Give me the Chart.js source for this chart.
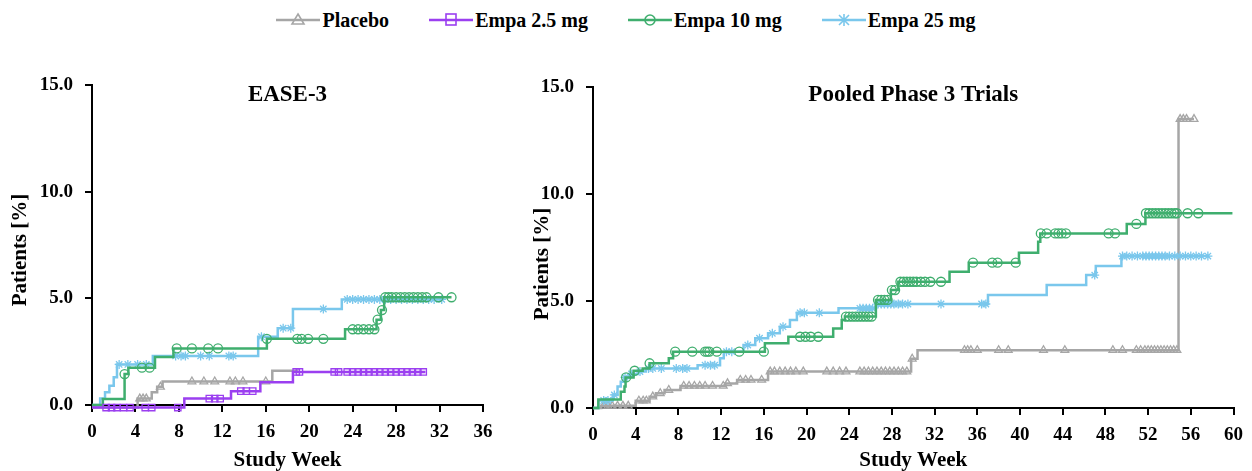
<!DOCTYPE html>
<html>
<head>
<meta charset="utf-8">
<script src="https://cdn.jsdelivr.net/npm/chart.js@4.4.1/dist/chart.umd.min.js"></script>
<style>
  html, body { margin: 0; padding: 0; background: #fff; }
  body { width: 1252px; height: 471px; position: relative; overflow: hidden; font-family: 'Liberation Serif', Tinos, 'DejaVu Serif', serif; }
  #legend { position: absolute; top: 8px; left: 0; width: 1252px; display: flex; justify-content: center; gap: 40px; font-weight: bold; font-size: 20px; line-height: 24px; }
  .item { display: flex; align-items: center; }
  .item svg { margin-right: 2px; }
  #leftWrap { position: absolute; left: 0; top: 0; width: 520px; height: 471px; }
  #rightWrap { position: absolute; left: 520px; top: 0; width: 732px; height: 471px; }
</style>
</head>
<body>
<div id="legend"></div>
<div id="leftWrap"><canvas id="easeChart" width="520" height="471"></canvas></div>
<div id="rightWrap"><canvas id="pooledChart" width="732" height="471"></canvas></div>

<script>
// --- Series names / colours ---
const seriesNames = ['Placebo', 'Empa 2.5 mg', 'Empa 10 mg', 'Empa 25 mg'];
const seriesColors = ['#a6a6a6', '#9b3ff0', '#3fae6e', '#7ac7ec'];
const seriesMarkers = ['triangle', 'rect', 'circle', 'star'];

// --- Axis ticks ---
const easeWeekMax = 36;
const pooledWeekMax = 60;
const weekStep = 4;
const pctTicks = [0, 5, 10, 15];

// --- EASE-3 (step curve: week where value changes, new value) ---
const easePlaceboWeeks = [0, 4.2, 5.5, 6.0, 6.5, 16.6, 19.0];
const easePlaceboPct   = [-0.12, 0.3, 0.6, 0.85, 1.1, 1.6, 1.6];
const easePlaceboCens  = [4.4, 4.7, 5.0, 6.3, 9.2, 10.3, 11.3, 12.7, 13.2, 13.9, 16.0];

const easeEmpa25mgWeeks = [0, 8.5, 12.8, 15.5, 18.5, 30.7];
const easeEmpa25mgPct   = [-0.12, 0.3, 0.65, 1.07, 1.55, 1.55];
const easeEmpa25mgCens  = [1.3, 1.8, 2.3, 2.9, 3.5, 4.9, 5.5, 7.9, 10.8, 11.3, 11.8, 13.7, 14.2, 14.8,
  18.8, 19.1, 22.3, 22.7, 23.5, 24.0, 24.5, 25.0, 25.5, 26.0, 26.5, 27.0, 27.5, 28.0, 28.5, 29.0, 29.5, 30.0, 30.5];

const easeEmpa10Weeks = [0, 1.0, 3.0, 3.35, 5.8, 7.5, 16.1, 23.3, 26.2, 26.6, 26.9, 33.1];
const easeEmpa10Pct   = [0, 0.28, 1.45, 1.75, 2.25, 2.65, 3.1, 3.55, 4.0, 4.45, 5.05, 5.05];
const easeEmpa10Cens  = [3.0, 4.6, 5.3, 7.8, 9.2, 10.7, 11.6, 16.1, 18.9, 19.3, 19.9, 21.3, 24.0, 24.5, 25.0,
  25.5, 26.0, 26.3, 26.7, 27.0, 27.3, 27.6, 28.0, 28.4, 28.8, 29.2, 29.6, 30.0, 30.4, 30.8, 31.9, 33.1];

const easeEmpa25Weeks = [0, 0.75, 1.2, 1.6, 2.0, 2.3, 5.6, 15.3, 17.1, 18.5, 23.0, 32.2];
const easeEmpa25Pct   = [0, 0.3, 0.6, 0.9, 1.3, 1.9, 2.3, 3.2, 3.6, 4.5, 4.95, 4.95];
const easeEmpa25Cens  = [2.5, 3.3, 4.2, 5.0, 7.7, 8.2, 8.6, 10.0, 10.8, 12.6, 13.0, 15.6, 17.6, 18.3, 21.3,
  23.5, 24.0, 24.5, 25.0, 25.5, 26.0, 26.5, 27.0, 27.5, 28.0, 28.5, 29.0, 29.5, 30.0, 30.5, 31.0, 31.5, 32.2];

// --- Pooled Phase 3 Trials ---
const pooledPlaceboWeeks = [0, 0.77, 4.0, 5.3, 5.9, 6.7, 8.2, 12.4, 13.5, 16.4, 29.8, 30.4, 54.85, 56.3];
const pooledPlaceboPct   = [0, 0.1, 0.34, 0.53, 0.69, 0.84, 1.03, 1.15, 1.31, 1.7, 2.3, 2.7, 13.5, 13.5];
const pooledPlaceboCens  = [1.0, 1.4, 1.8, 2.3, 2.8, 3.3, 4.3, 4.7, 5.0, 5.6, 6.3, 7.1, 8.5, 9.0, 9.5, 10.0,
  10.5, 11.2, 12.2, 12.6, 13.8, 14.3, 14.8, 15.8, 16.6, 17.0, 17.5, 18.0, 18.5, 19.0, 19.7, 21.9, 22.5, 23.1,
  23.7, 25.0, 25.4, 25.8, 26.2, 26.6, 27.0, 27.4, 27.8, 28.2, 28.6, 29.0, 29.4, 29.9, 34.8, 35.1, 35.4, 36.0,
  38.0, 38.9, 42.2, 44.2, 48.7, 49.6, 50.9, 51.3, 51.7, 52.0, 52.3, 52.6, 52.9, 53.2, 53.5, 53.8, 54.1, 54.4,
  54.7, 55.0, 55.3, 55.6, 56.3];

const pooledEmpa10Weeks = [0, 0.5, 2.6, 2.95, 3.05, 3.8, 4.65, 5.3, 7.1, 7.5, 16.1, 18.3, 22.5, 23.3, 23.6,
  26.5, 27.9, 28.6, 33.4, 35.2, 39.9, 41.7, 41.9, 50.0, 51.75, 59.9];
const pooledEmpa10Pct   = [0, 0.4, 0.76, 1.0, 1.43, 1.74, 1.85, 2.09, 2.32, 2.63, 3.02, 3.33, 3.72, 4.11, 4.27,
  5.05, 5.51, 5.9, 6.37, 6.79, 7.26, 7.77, 8.16, 8.6, 9.1, 9.1];
const pooledEmpa10Cens  = [3.1, 3.9, 5.3, 7.7, 9.3, 10.5, 10.7, 10.9, 11.6, 13.7, 16.0, 19.4, 19.9, 20.4, 21.1,
  23.7, 24.0, 24.3, 24.6, 24.9, 25.2, 25.5, 25.8, 26.1, 26.7, 27.0, 27.3, 27.6, 28.0, 28.3, 28.8, 29.1, 29.4,
  29.7, 30.0, 30.3, 30.7, 31.1, 31.6, 32.6, 35.6, 37.4, 37.9, 39.6, 41.95, 42.5, 43.3, 43.6, 43.9, 44.3, 48.3,
  48.9, 50.9, 51.8, 52.1, 52.4, 52.7, 53.0, 53.3, 53.6, 53.9, 54.2, 54.5, 54.7, 55.7, 56.7];

const pooledEmpa25Weeks = [0, 0.5, 1.85, 2.3, 2.6, 2.95, 3.4, 4.2, 4.95, 9.8, 11.9, 12.25, 14.1, 15.2, 16.4,
  17.5, 18.45, 19.1, 23.0, 26.5, 37.0, 42.5, 46.2, 47.1, 49.5, 57.7];
const pooledEmpa25Pct   = [0, 0.35, 0.61, 1.0, 1.23, 1.43, 1.59, 1.7, 1.85, 2.0, 2.32, 2.63, 2.94, 3.26, 3.49,
  3.8, 4.11, 4.45, 4.66, 4.86, 5.28, 5.75, 6.21, 6.64, 7.1, 7.1];
const pooledEmpa25Cens  = [1.0, 1.4, 2.0, 3.0, 3.6, 4.4, 5.2, 5.6, 6.4, 7.8, 8.4, 8.8, 10.5, 11.0, 11.4, 12.5,
  13.0, 14.5, 15.6, 16.8, 17.8, 19.4, 19.8, 21.2, 25.0, 25.3, 25.6, 25.9, 26.2, 26.7, 27.0, 27.3, 27.6, 27.9,
  28.2, 28.6, 29.0, 29.5, 32.6, 36.4, 36.8, 47.0, 49.6, 50.0, 50.5, 51.0, 51.5, 51.8, 52.1, 52.4, 52.7, 53.0,
  53.3, 53.6, 54.0, 54.5, 55.0, 55.5, 56.0, 56.5, 57.0, 57.6];

const FONT = "'Liberation Serif', Tinos, 'DejaVu Serif', serif";

// value of the step curve at a given week (for placing censor marks)
function stepAt(t, weeks, pct) {
  let v = pct[0];
  for (let i = 0; i < weeks.length; i++) {
    if (weeks[i] <= t) v = pct[i];
  }
  return v;
}

// --- Build line + censor-mark datasets for one series ---
function seriesDatasets(idx, weeks, pct, cens, order) {
  const color = seriesColors[idx];
  return [
    {
      label: seriesNames[idx],
      data: weeks.map((w, i) => ({ x: w, y: pct[i] })),
      borderColor: color,
      backgroundColor: color,
      borderWidth: 2.5,
      stepped: true,
      pointRadius: 0,
      clip: false,
      order: order
    },
    {
      label: seriesNames[idx] + ' censored',
      data: cens.map(w => ({ x: w, y: stepAt(w, weeks, pct) })),
      showLine: false,
      pointStyle: seriesMarkers[idx],
      pointRadius: 4.5,
      pointBorderWidth: 1.3,
      pointBorderColor: color,
      pointBackgroundColor: 'rgba(255,255,255,0)',
      clip: false,
      order: order
    }
  ];
}

// --- Panel title inside the plot area + rotated y title ---
const panelText = {
  id: 'panelText',
  afterDraw(chart, args, opts) {
    const { ctx, chartArea } = chart;
    ctx.save();
    ctx.fillStyle = '#000';
    ctx.textAlign = 'center';
    ctx.textBaseline = 'middle';
    ctx.font = 'bold 23px ' + FONT;
    ctx.fillText(opts.text, (chartArea.left + chartArea.right) / 2, opts.y);
    ctx.translate(opts.yTitleX, opts.yTitleY);
    ctx.rotate(-Math.PI / 2);
    ctx.font = 'bold 21px ' + FONT;
    ctx.fillText('Patients [%]', 0, 0);
    ctx.restore();
  }
};

function makePanel(canvasId, datasets, cfg) {
  const ctx = document.getElementById(canvasId).getContext('2d');
  return new Chart(ctx, {
    type: 'line',
    data: { datasets: datasets },
    plugins: [panelText],
    options: {
      responsive: false,
      animation: false,
      devicePixelRatio: 1,
      layout: { padding: { top: cfg.top, right: cfg.right, bottom: 0, left: 0 } },
      plugins: {
        legend: { display: false },
        tooltip: { enabled: false },
        panelText: { text: cfg.title, y: 95, yTitleX: cfg.yTitleX, yTitleY: cfg.yTitleY }
      },
      scales: {
        x: {
          type: 'linear',
          min: 0,
          max: cfg.xMax,
          afterFit: s => { s.height = cfg.xHeight; },
          border: { display: true, color: '#000', width: 2 },
          grid: { drawOnChartArea: false, drawTicks: true, tickLength: 7, color: '#000', lineWidth: 2 },
          ticks: {
            stepSize: weekStep,
            padding: 9,
            color: '#000',
            maxRotation: 0,
            font: { family: FONT, size: 19, weight: 'bold' }
          },
          title: {
            display: true,
            text: 'Study Week',
            color: '#000',
            padding: { top: 0, bottom: 0 },
            font: { family: FONT, size: 21, weight: 'bold', lineHeight: 1 }
          }
        },
        y: {
          min: 0,
          max: 15,
          afterFit: s => { s.width = cfg.yWidth; },
          afterBuildTicks: s => { s.ticks = pctTicks.map(v => ({ value: v })); },
          border: { display: true, color: '#000', width: 2 },
          grid: { drawOnChartArea: false, drawTicks: true, tickLength: 7, color: '#000', lineWidth: 2 },
          ticks: {
            padding: 12,
            color: '#000',
            font: { family: FONT, size: 19, weight: 'bold' },
            callback: v => Number(v).toFixed(1)
          }
        }
      }
    }
  });
}

// --- Left panel: EASE-3 ---
makePanel('easeChart', [].concat(
  seriesDatasets(1, easeEmpa25mgWeeks, easeEmpa25mgPct, easeEmpa25mgCens, 1),
  seriesDatasets(2, easeEmpa10Weeks, easeEmpa10Pct, easeEmpa10Cens, 2),
  seriesDatasets(3, easeEmpa25Weeks, easeEmpa25Pct, easeEmpa25Cens, 3),
  seriesDatasets(0, easePlaceboWeeks, easePlaceboPct, easePlaceboCens, 4)
), { title: 'EASE-3', xMax: easeWeekMax, top: 85, right: 37, xHeight: 66, yWidth: 92, yTitleX: 21, yTitleY: 250 });

// --- Right panel: Pooled Phase 3 Trials ---
makePanel('pooledChart', [].concat(
  seriesDatasets(2, pooledEmpa10Weeks, pooledEmpa10Pct, pooledEmpa10Cens, 2),
  seriesDatasets(3, pooledEmpa25Weeks, pooledEmpa25Pct, pooledEmpa25Cens, 3),
  seriesDatasets(0, pooledPlaceboWeeks, pooledPlaceboPct, pooledPlaceboCens, 4)
), { title: 'Pooled Phase 3 Trials', xMax: pooledWeekMax, top: 87, right: 14, xHeight: 63, yWidth: 73, yTitleX: 23, yTitleY: 264 });

// --- Legend (line with marker, then name) ---
function markerSvg(kind, color) {
  const s = 'fill="none" stroke="' + color + '" stroke-width="1.6"';
  if (kind === 'triangle') return '<polygon points="22,2 28,12 16,12" ' + s + '/>';
  if (kind === 'rect') return '<rect x="17" y="2" width="10" height="11" ' + s + '/>';
  if (kind === 'circle') return '<circle cx="22" cy="8" r="5" ' + s + '/>';
  return '<path d="M17,3 L27,13 M27,3 L17,13 M22,2 L22,14" ' + s + '/>';
}
const legendEl = document.getElementById('legend');
seriesNames.forEach((name, i) => {
  const item = document.createElement('div');
  item.className = 'item';
  item.innerHTML = '<svg width="44" height="16" viewBox="0 0 44 16">' +
    '<line x1="0" y1="8" x2="44" y2="8" stroke="' + seriesColors[i] + '" stroke-width="2.5"/>' +
    markerSvg(seriesMarkers[i], seriesColors[i]) + '</svg>';
  const label = document.createElement('span');
  label.textContent = name;
  item.appendChild(label);
  legendEl.appendChild(item);
});
</script>
</body>
</html>
